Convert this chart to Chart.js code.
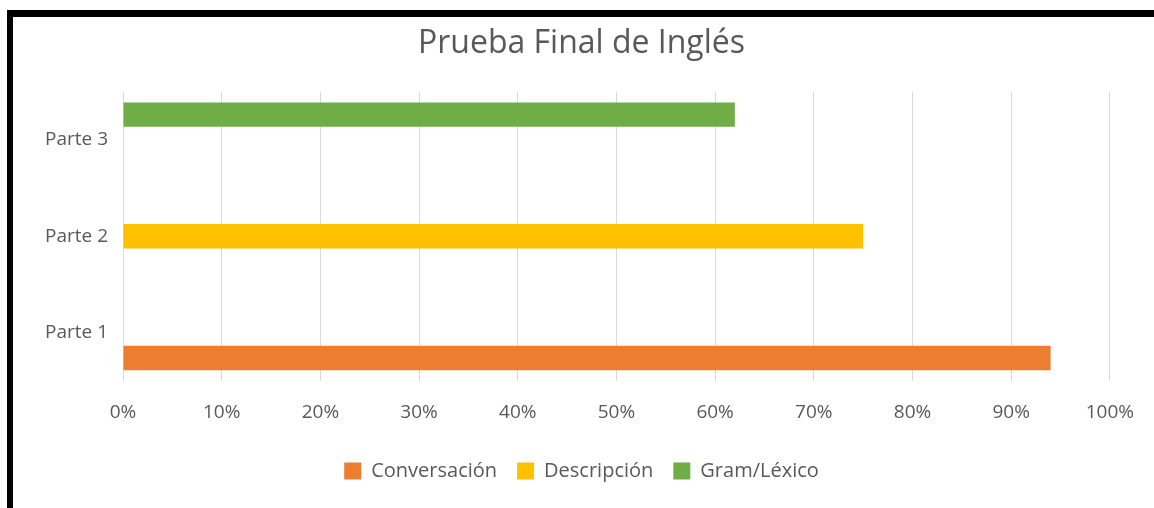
<!DOCTYPE html>
<html>
<head>
<meta charset="utf-8">
<script src="https://cdn.jsdelivr.net/npm/chart.js@4/dist/chart.umd.min.js"></script>
<style>
  html, body { margin: 0; padding: 0; background: #fff; }
  body { width: 1154px; height: 508px; position: relative; overflow: hidden; }
  .frame {
    position: absolute; left: 7px; top: 10px; right: 0; bottom: 0;
    border-top: 7px solid #000; border-left: 6px solid #000;
    background: #fff;
  }
  .wrap { position: absolute; left: 0; top: 0; width: 1141px; height: 491px; }
</style>
</head>
<body>
<div class="frame">
  <div class="wrap"><canvas id="chart"></canvas></div>
</div>
<script>
// categories (bottom to top, axis is reversed)
const categories = ['Parte 1', 'Parte 2', 'Parte 3'];

// percentages per part
const conversacion = [94, null, null];
const descripcion = [null, 75, null];
const gramLexico = [null, null, 62];

const xTicks = [0, 10, 20, 30, 40, 50, 60, 70, 80, 90, 100];

document.addEventListener("DOMContentLoaded", () => {
    const ctx = document.getElementById('chart').getContext('2d');
    const font = 'Open Sans';
    const grey = '#595959';

    // Excel puts the first series at the bottom of each group,
    // so the datasets go in reverse and the legend is flipped back
    new Chart(ctx, {
        type: 'bar',
        data: {
            labels: categories,
            datasets: [
                { label: 'Gram/Léxico', data: gramLexico, backgroundColor: '#70AD47' },
                { label: 'Descripción', data: descripcion, backgroundColor: '#FFC000' },
                { label: 'Conversación', data: conversacion, backgroundColor: '#ED7D31' }
            ]
        },
        options: {
            indexAxis: 'y',
            responsive: true,
            maintainAspectRatio: false,
            animation: false,
            categoryPercentage: 0.78,
            barPercentage: 0.97,
            layout: { padding: { left: 0, right: 4, top: 4, bottom: 17 } },
            plugins: {
                title: {
                    display: true,
                    text: 'Prueba Final de Inglés',
                    color: grey,
                    font: { family: font, size: 32, weight: 'normal' },
                    padding: { top: 4, bottom: 28 }
                },
                legend: {
                    display: true,
                    position: 'bottom',
                    reverse: true,
                    labels: {
                        boxWidth: 17, boxHeight: 17, padding: 20,
                        color: grey,
                        font: { family: font, size: 20 }
                    }
                },
                tooltip: { enabled: false }
            },
            scales: {
                x: {
                    min: 0, max: 100,
                    afterBuildTicks: (axis) => { axis.ticks = xTicks.map(v => ({ value: v })); },
                    afterFit: (axis) => { axis.height -= 3; },
                    grid: { color: '#d9d9d9', drawTicks: false },
                    border: { display: false },
                    ticks: {
                        padding: 20,
                        color: grey,
                        font: { family: font, size: 19 },
                        callback: (v) => v + '%'
                    }
                },
                y: {
                    reverse: true,
                    afterFit: (axis) => { axis.width = 110; },
                    grid: { display: false },
                    border: { display: false },
                    ticks: {
                        padding: 7,
                        color: grey,
                        font: { family: font, size: 19 }
                    }
                }
            }
        }
    });
});
</script>
</body>
</html>
